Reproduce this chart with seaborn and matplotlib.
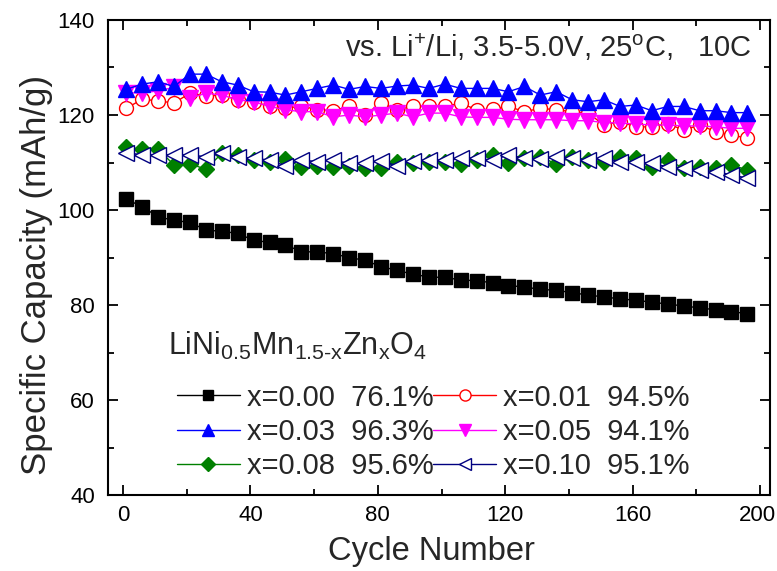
import numpy as np
import pandas as pd
import matplotlib
matplotlib.use("Agg")
import matplotlib.pyplot as plt
from matplotlib.transforms import ScaledTranslation
import seaborn as sns

# Cycle numbers at which capacity was recorded
cycles = list(range(1, 200, 5))

# Discharge capacity (mAh/g) for each Zn content
cap_000 = [102.3, 100.7, 98.6, 97.8, 97.4, 95.8, 95.5, 95.1, 93.6, 93.2,
           92.7, 91.2, 91.2, 90.8, 90.0, 89.4, 88.1, 87.3, 86.5, 85.9,
           85.8, 85.3, 85.1, 84.7, 84.1, 83.8, 83.3, 83.1, 82.6, 82.1,
           81.7, 81.3, 81.0, 80.6, 80.2, 79.8, 79.4, 79.0, 78.6, 78.2]
cap_001 = [121.4, 123.3, 123.0, 122.5, 124.6, 124.0, 124.2, 123.2, 122.8, 121.8,
           121.4, 121.9, 121.1, 120.9, 121.8, 120.0, 122.6, 121.1, 121.8, 121.8,
           121.8, 122.5, 121.1, 121.2, 121.8, 120.7, 121.4, 121.1, 120.7, 120.4,
           117.9, 118.6, 117.5, 117.5, 118.2, 116.8, 117.9, 116.5, 115.8, 115.1]
cap_003 = [125.4, 126.5, 127.0, 126.0, 128.6, 128.6, 127.0, 126.3, 124.9, 124.8,
           124.2, 124.9, 125.6, 126.3, 125.4, 126.0, 125.6, 126.1, 126.3, 125.6,
           126.5, 125.6, 125.6, 125.6, 124.9, 126.0, 124.2, 124.9, 123.2, 122.8,
           123.2, 121.8, 122.1, 120.9, 121.8, 121.8, 120.9, 120.9, 120.5, 120.5]
cap_005 = [124.7, 124.6, 125.1, 125.8, 123.5, 124.6, 124.2, 123.2, 122.8, 121.8,
           121.1, 120.7, 120.7, 119.6, 120.0, 119.6, 120.0, 120.4, 119.6, 120.4,
           120.4, 119.6, 119.5, 119.5, 119.1, 119.0, 119.0, 119.0, 118.8, 118.8,
           118.4, 118.3, 118.1, 117.9, 117.9, 117.7, 117.7, 117.5, 117.2, 117.2]
cap_008 = [113.2, 112.8, 112.8, 109.5, 109.7, 108.6, 111.9, 111.6, 110.5, 110.2,
           110.7, 109.1, 109.3, 109.1, 109.3, 108.8, 108.8, 110.2, 109.8, 110.2,
           110.2, 109.7, 110.5, 111.6, 109.8, 110.9, 111.2, 109.7, 111.2, 110.5,
           110.2, 111.2, 110.9, 109.1, 110.5, 108.8, 109.1, 108.8, 109.5, 108.4]
cap_010 = [112.1, 111.6, 111.6, 111.6, 111.6, 111.2, 111.9, 111.2, 110.9, 110.5,
           109.3, 110.5, 110.2, 110.5, 109.8, 109.8, 110.4, 109.3, 110.4, 110.5,
           110.5, 110.9, 110.9, 110.5, 111.6, 110.9, 110.7, 111.2, 110.9, 110.5,
           110.9, 110.2, 110.2, 109.8, 109.1, 108.8, 108.4, 108.1, 107.4, 106.7]

labels = ["x=0.00  76.1%", "x=0.01  94.5%", "x=0.03  96.3%",
          "x=0.05  94.1%", "x=0.08  95.6%", "x=0.10  95.1%"]
series = [cap_000, cap_001, cap_003, cap_005, cap_008, cap_010]

# (line colour, marker, face colour, marker size)
styles = [
    ("black", "s", "black", 9.5),
    ("red", "o", "white", 10),
    ("blue", "^", "blue", 11.5),
    ("magenta", "v", "magenta", 11.5),
    ("green", "D", "green", 8.5),
    ("navy", "<", "white", 11.5),
]

sns.set_theme(style="ticks")
plt.rcParams["font.family"] = ["Liberation Sans", "DejaVu Sans"]
plt.rcParams["mathtext.fontset"] = "custom"
plt.rcParams["mathtext.rm"] = "Liberation Sans"
plt.rcParams["mathtext.it"] = "Liberation Sans"
plt.rcParams["mathtext.bf"] = "Liberation Sans:bold"

fig = plt.figure(figsize=(7.77, 5.71), dpi=100)
ax = fig.add_axes([0.139, 0.133, 0.852, 0.832])

df = pd.concat(
    [pd.DataFrame({"cycle": cycles, "capacity": vals, "sample": lab})
     for lab, vals in zip(labels, series)],
    ignore_index=True,
)

# Draw in an order that keeps the blue/magenta and green/navy overlap layering
draw_order = [0, 4, 5, 1, 3, 2]
handles = {}
for i in draw_order:
    lab = labels[i]
    color, mk, face, ms = styles[i]
    sub = df[df["sample"] == lab]
    sns.lineplot(data=sub, x="cycle", y="capacity", ax=ax, color=color,
                 marker=mk, markersize=ms, markerfacecolor=face,
                 markeredgecolor=color, markeredgewidth=1.0, linewidth=1.0,
                 label=lab, legend=False)
    handles[i] = ax.lines[-1]

ax.set_xlim(-4.7, 203.1)
ax.set_ylim(40, 140)
ax.set_xticks([0, 40, 80, 120, 160, 200])
ax.set_yticks([40, 60, 80, 100, 120, 140])
ax.set_xticks([20, 60, 100, 140, 180], minor=True)
ax.set_yticks([50, 70, 90, 110, 130], minor=True)
ax.tick_params(which="both", direction="in", top=True, right=True,
               labelsize=16, colors="black", width=1.3)
ax.tick_params(which="major", length=7)
ax.tick_params(axis="y", which="major", pad=9.5)
ax.tick_params(axis="x", which="major", pad=7)
ax.tick_params(which="minor", length=4)
for sp in ax.spines.values():
    sp.set_visible(True)
    sp.set_linewidth(1.5)
    sp.set_color("black")

ax.set_xlabel("Cycle Number", fontsize=23.5)
ax.set_ylabel("Specific Capacity (mAh/g)", fontsize=25)
ax.xaxis.set_label_coords(0.488, -0.087)
ax.yaxis.set_label_coords(-0.083, 0.463)

ax.text(0.973, 0.923,
        r"vs. Li$^{\mathregular{+}}$/Li, 3.5-5.0V, 25$^{\mathregular{o}}$C,   10C",
        transform=ax.transAxes, ha="right", va="baseline", fontsize=21)

# Composition heading above the legend entries
ax.text(0.0906, 0.295,
        r"LiNi$_{\mathregular{0.5}}$Mn$_{\mathregular{1.5\text{-}x}}$Zn$_{\mathregular{x}}$O$_{\mathregular{4}}$",
        transform=ax.transAxes, ha="left", va="baseline", fontsize=22)

# Legend: row-major order across two columns
order = [0, 2, 4, 1, 3, 5]
leg = ax.legend([handles[i] for i in order], [labels[i] for i in order],
                ncol=2, frameon=False, fontsize=21,
                loc="lower left", bbox_to_anchor=(0.104, 0.032),
                handlelength=2.15, handletextpad=0.24, columnspacing=0.0,
                labelspacing=0.21, borderaxespad=0, borderpad=0,
                markerscale=0.8)

# Nudge the last x tick label so it stays inside the canvas
fig.canvas.draw()
last = ax.get_xticklabels()[-1]
last.set_transform(last.get_transform()
                   + ScaledTranslation(-3 / 100, 0, fig.dpi_scale_trans))

fig.savefig("out.png", dpi=100)
